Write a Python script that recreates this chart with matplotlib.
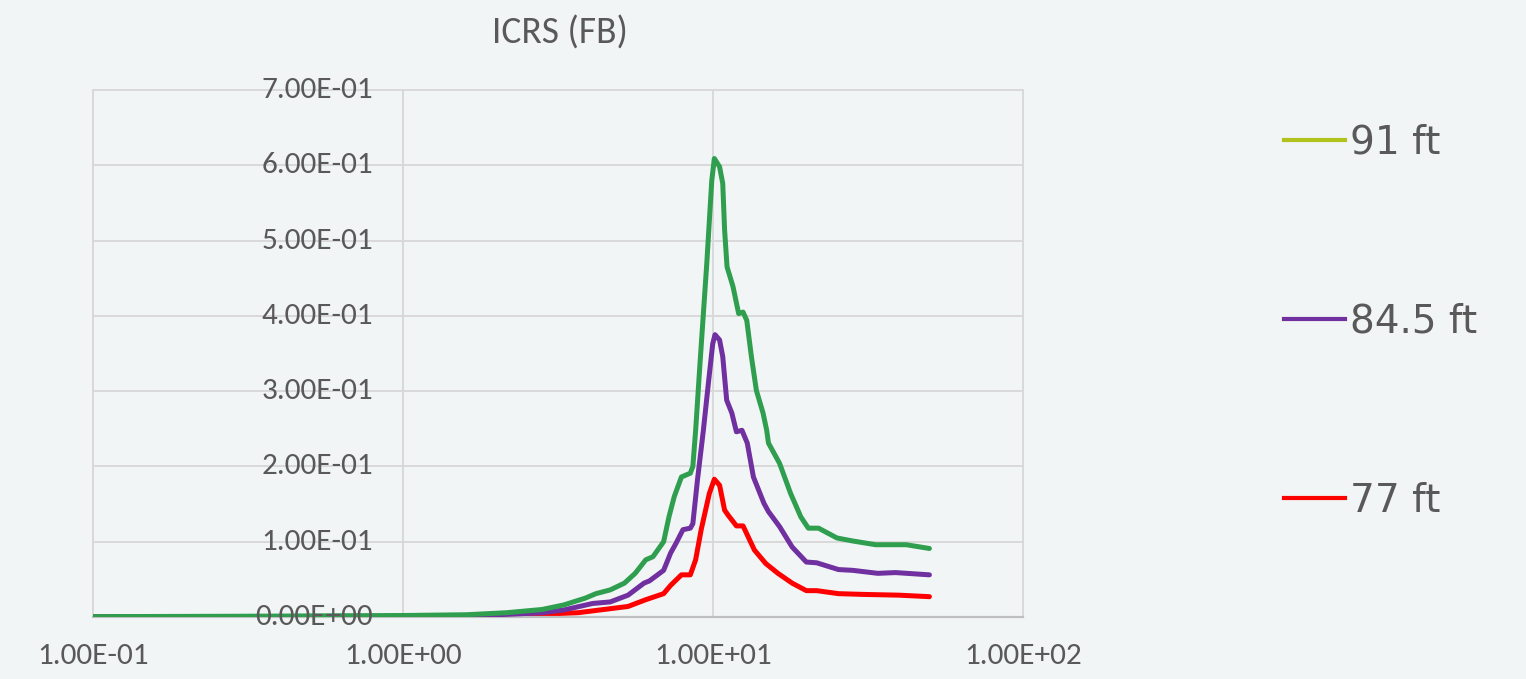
import matplotlib
matplotlib.use("Agg")
import matplotlib.pyplot as plt
from matplotlib.lines import Line2D
from matplotlib.transforms import blended_transform_factory

# ── 数据: 频率 (Hz) vs 谱值 ──
freq_91 = [0.1, 0.3, 1.0, 1.6, 2.16, 2.81, 3.30, 3.87, 4.19, 4.66, 5.18, 5.61, 6.07,
           6.40, 6.93, 7.21, 7.50, 7.91, 8.45, 8.61, 8.79, 9.08, 9.55, 9.91, 10.1,
           10.5, 10.75, 10.9, 11.1, 11.6, 12.1, 12.5, 12.85, 13.3, 13.8, 14.5, 14.9,
           15.1, 16.4, 17.8, 19.2, 20.3, 21.9, 25.1, 28.2, 33.5, 42.0, 49.9]
val_91 = [0.0005, 0.001, 0.002, 0.003, 0.0057, 0.010, 0.016, 0.025, 0.031, 0.036, 0.045,
          0.058, 0.076, 0.080, 0.100, 0.133, 0.160, 0.186, 0.191, 0.200, 0.248, 0.337,
          0.470, 0.580, 0.609, 0.598, 0.576, 0.514, 0.465, 0.439, 0.403, 0.405, 0.394,
          0.346, 0.301, 0.271, 0.248, 0.231, 0.204, 0.164, 0.133, 0.118, 0.118, 0.105,
          0.101, 0.096, 0.096, 0.091]

freq_845 = [0.1, 0.3, 1.0, 1.8, 2.81, 3.30, 4.09, 4.66, 5.32, 5.99, 6.24, 6.93, 7.3,
            7.6, 8.0, 8.45, 8.61, 8.91, 9.31, 9.66, 9.98, 10.15, 10.5, 10.75, 11.07,
            11.5, 11.9, 12.4, 12.9, 13.5, 14.6, 15.1, 16.4, 18.0, 20.0, 21.6, 25.4,
            28.2, 34.0, 38.8, 49.9]
val_845 = [0.0002, 0.0005, 0.001, 0.002, 0.0057, 0.0093, 0.018, 0.020, 0.029, 0.045,
           0.048, 0.062, 0.085, 0.098, 0.116, 0.118, 0.124, 0.182, 0.248, 0.310, 0.363,
           0.375, 0.368, 0.346, 0.288, 0.271, 0.246, 0.248, 0.231, 0.186, 0.151, 0.140,
           0.120, 0.093, 0.073, 0.072, 0.063, 0.062, 0.058, 0.059, 0.056]

freq_77 = [0.1, 0.3, 1.0, 2.0, 3.67, 5.32, 6.07, 6.93, 7.3, 7.91, 8.45, 8.79, 9.16,
           9.73, 10.1, 10.5, 10.9, 11.2, 11.5, 11.9, 12.5, 12.9, 13.6, 14.8, 16.2,
           18.0, 20.0, 21.6, 25.4, 30.6, 39.8, 49.9]
val_77 = [0.0001, 0.0002, 0.0005, 0.001, 0.0057, 0.014, 0.023, 0.031, 0.042, 0.056,
          0.056, 0.076, 0.116, 0.164, 0.183, 0.175, 0.142, 0.135, 0.129, 0.121, 0.121,
          0.109, 0.089, 0.071, 0.058, 0.045, 0.035, 0.035, 0.031, 0.030, 0.029, 0.027]

series_labels = ["91 ft", "84.5 ft", "77 ft"]
line_colors = ["#2f9e4f", "#7030a0", "#ff0000"]
legend_colors = ["#b2c21c", "#7030a0", "#ff0000"]

xticks = [0.1, 1, 10, 100]
xtick_labels = ["1.00E-01", "1.00E+00", "1.00E+01", "1.00E+02"]
yticks = [0.0, 0.1, 0.2, 0.3, 0.4, 0.5, 0.6, 0.7]
ytick_labels = ["0.00E+00", "1.00E-01", "2.00E-01", "3.00E-01",
                "4.00E-01", "5.00E-01", "6.00E-01", "7.00E-01"]

BG = "#f2f5f6"
TXT = "#595959"
GRID = "#d9d9d9"
FONT = ["Carlito", "Open Sans", "DejaVu Sans"]

fig = plt.figure(figsize=(15.26, 6.79), dpi=100, facecolor=BG)
ax = fig.add_axes([93 / 1526, 1 - 617 / 679, 930 / 1526, 527 / 679])
ax.set_facecolor(BG)

ax.set_xscale("log")
ax.set_xlim(0.1, 100)
ax.set_ylim(0, 0.7)

# 网格 (Excel 风格)
ax.set_xticks(xticks)
ax.set_xticks([], minor=True)
ax.set_yticks(yticks)
ax.grid(True, which="major", color=GRID, lw=1.4, zorder=0)
for s in ["left", "top", "right"]:
    ax.spines[s].set_color(GRID)
    ax.spines[s].set_linewidth(1.4)
ax.spines["bottom"].set_color("#bfbfbf")
ax.spines["bottom"].set_linewidth(1.6)
ax.axvline(1, color="#bfbfbf", lw=1.4, zorder=1)

ax.tick_params(axis="both", length=0)
ax.set_xticklabels(xtick_labels, fontsize=22.5, color=TXT, family=FONT)
ax.tick_params(axis="x", pad=19)
ax.set_yticklabels([])

# Y 轴标签画在 x=1 的交叉轴旁
trans = blended_transform_factory(ax.transData, ax.transData)
for yv, lab in zip(yticks, ytick_labels):
    ax.annotate(lab, xy=(1, yv), xycoords=trans, xytext=(-30, 0),
                textcoords="offset pixels", ha="right", va="center",
                fontsize=22.5, color=TXT, family=FONT, zorder=5)

kw = dict(lw=3.6, solid_capstyle="round", solid_joinstyle="round")
ax.plot(freq_91, val_91, color=line_colors[0], zorder=4, **kw)
ax.plot(freq_845, val_845, color=line_colors[1], zorder=3, **kw)
ax.plot(freq_77, val_77, color=line_colors[2], zorder=2, **kw)

fig.text(560 / 1526, 1 - 33 / 679, "ICRS (FB)", ha="center", va="center",
         fontsize=27, color=TXT, family=FONT)

handles = [Line2D([], [], color=c, lw=3) for c in legend_colors]
leg = fig.legend(handles, series_labels, loc="upper left",
                 bbox_to_anchor=(1284 / 1526, 1 - 124 / 679), frameon=False,
                 prop={"size": 28, "family": "DejaVu Sans"}, labelcolor=TXT,
                 handlelength=1.58, handletextpad=0.12, labelspacing=3.62,
                 borderpad=0, borderaxespad=0)

plt.savefig("out.png", dpi=100, facecolor=BG)
